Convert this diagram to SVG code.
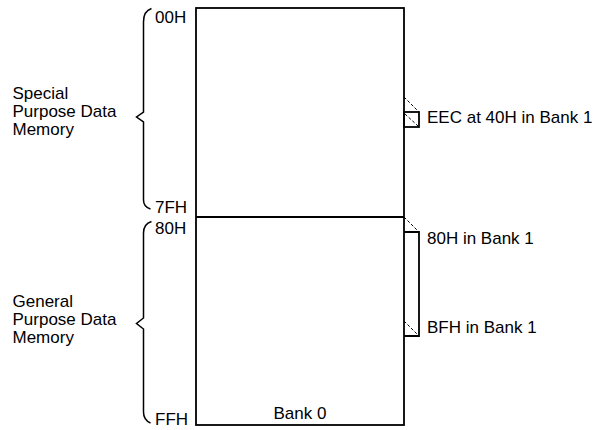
<svg xmlns="http://www.w3.org/2000/svg" width="607" height="430" viewBox="0 0 607 430">
<style>
text{font-family:"Liberation Sans",Arial,sans-serif;font-size:17px;fill:#000}
.ln{fill:none;stroke:#000;stroke-width:1.8}
.br{fill:none;stroke:#000;stroke-width:1.5}
.ds{fill:none;stroke:#000;stroke-width:1;stroke-dasharray:3,2}
</style>
<rect width="607" height="430" fill="#fff"/>
<g id="memory">
<rect class="ln" x="196" y="8" width="208" height="417"/>
<line class="ln" x1="196" y1="217" x2="404" y2="217"/>
<text x="300" y="419" text-anchor="middle">Bank 0</text>
</g>
<g id="special-brace">
<path class="br" d="M151.5,8.5 Q143.5,11 143.5,22 L143.5,112 L136.5,117 L143.5,122 L143.5,200 Q143.5,207 150.5,209"/>
<text x="12.5" y="99">Special</text>
<text x="12.5" y="117">Purpose Data</text>
<text x="12.5" y="135">Memory</text>
</g>
<g id="general-brace">
<path class="br" d="M151.5,221.5 Q143.5,224 143.5,233 L143.5,318 L136.5,323.5 L143.5,329 L143.5,412 Q143.5,420 150.5,423"/>
<text x="12.5" y="307">General</text>
<text x="12.5" y="325">Purpose Data</text>
<text x="12.5" y="343">Memory</text>
</g>
<g id="addresses">
<text x="155" y="23">00H</text>
<text x="155" y="213">7FH</text>
<text x="155" y="234">80H</text>
<text x="155" y="425">FFH</text>
</g>
<g id="eec">
<rect class="ln" x="404" y="112" width="15" height="15"/>
<text x="427" y="123">EEC at 40H in Bank 1</text>
</g>
<g id="bank1">
<path class="ln" d="M404,232 L419,232 L419,336 L404,336"/>
<text x="427" y="244">80H in Bank 1</text>
<text x="427" y="333">BFH in Bank 1</text>
</g>
<g id="connectors">
<line class="ds" x1="404" y1="97" x2="419" y2="112"/>
<line class="ds" x1="405" y1="114" x2="418" y2="126"/>
<line class="ds" x1="404" y1="217" x2="419" y2="232"/>
<line class="ds" x1="404" y1="321" x2="418" y2="335"/>
</g>
</svg>
